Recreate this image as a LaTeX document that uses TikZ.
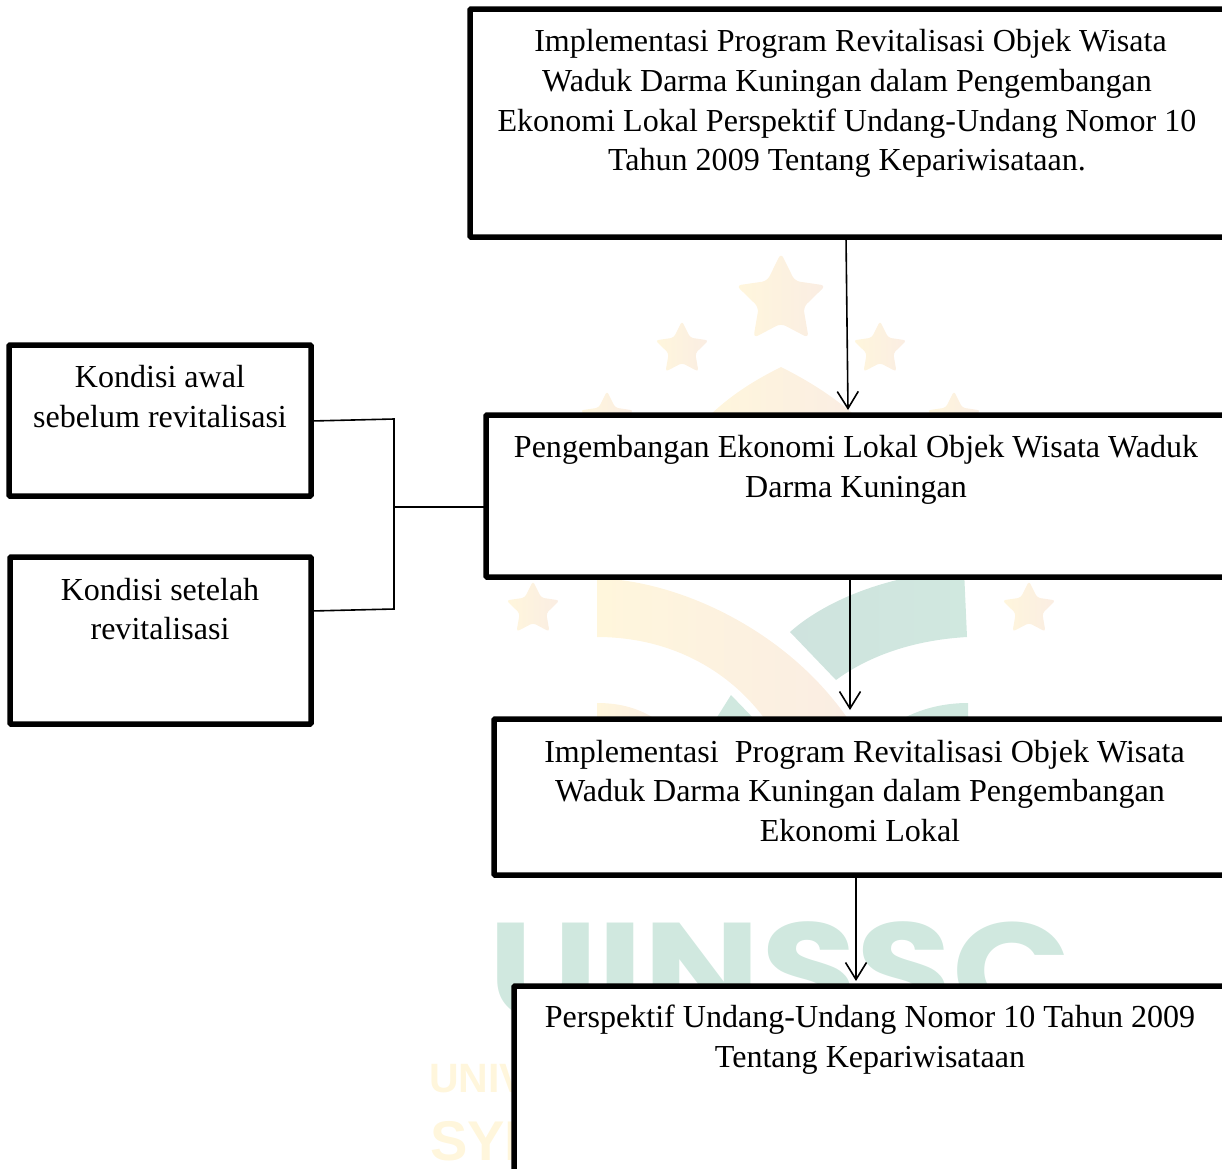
\documentclass[tikz,border=0pt]{standalone}
\usepackage{fontspec}
\setmainfont{Liberation Serif}
\newfontfamily\wmfont{Poppins}[BoldFont={Poppins Bold}]
\newfontfamily\wmsans{Liberation Sans}
\usetikzlibrary{arrows.meta,calc}
\definecolor{wmyellow}{HTML}{FFF6DC}
\definecolor{wmpeach}{HTML}{FAEDE3}
\definecolor{wmteal}{HTML}{D0E8DF}
\definecolor{wmtealdark}{HTML}{CFE3DE}
\newcommand{\wmstar}[3]{%
  \pgfmathsetmacro{\ri}{#3*0.5}%
  \shade[left color=wmyellow,right color=wmpeach,rounded corners=#3*0.11pt]
    ($(#1,#2)+(90:#3pt and #3pt)$)
    \foreach \k in {1,...,9}{
      \ifodd\k -- ($(#1,#2)+({90+36*\k}:\ri pt and \ri pt)$)
      \else -- ($(#1,#2)+({90+36*\k}:#3pt and #3pt)$)\fi
    } -- cycle;}
\tikzset{
  x=1pt,y=-1pt,
  boxa/.style={draw=black,fill=white,line width=5.5pt,rounded corners=1pt,inner sep=0pt,outer sep=0pt},
  lab/.style={align=center,inner sep=0pt,font=\fontsize{32.05}{39.8}\selectfont,anchor=center},
  conn/.style={draw=black,line width=1.6pt},
  arr/.style={conn,-{Straight Barb[length=17pt,width=21pt,line width=1.6pt]}}
}
\begin{document}
\begin{tikzpicture}
\useasboundingbox (0,0) rectangle (1222,1168);
\clip (0,0) rectangle (1222,1168);
% watermark
\wmstar{781}{300}{47}
\wmstar{682}{349}{28}
\wmstar{880}{349}{28}
\wmstar{607}{419}{28}
\wmstar{954}{419}{28}
\wmstar{533}{609}{28}
\wmstar{1029}{609}{28}
\shade[left color=wmyellow,right color=wmpeach] (705,420) .. controls (730,395) and (755,380) .. (781,367) .. controls (807,380) and (835,397) .. (860,420) -- cycle;
\shade[left color=wmyellow,right color=wmpeach] (597,637) -- (597,570) -- (620,580) .. controls (700,590) and (795,640) .. (850,722) -- (767,722) .. controls (730,670) and (670,637) .. (597,637) -- cycle;
\shade[left color=wmtealdark,right color=wmteal] (790,632) .. controls (820,605) and (880,575) .. (964,570) -- (967,637) .. controls (915,640) and (870,655) .. (836,680) -- cycle;
\shade[left color=wmyellow,right color=wmpeach] (597,703) .. controls (620,703) and (640,708) .. (660,722) -- (597,722) -- cycle;
\fill[wmteal] (731,695) -- (757,722) -- (714,722) -- cycle;
\fill[wmteal] (968,703) .. controls (945,703) and (920,708) .. (897,722) -- (968,722) -- cycle;
\node[text=wmteal,inner sep=0pt,anchor=base west,font=\wmfont\bfseries\fontsize{136}{136}\selectfont] (wmuin) at (488,1018) {\scalebox{1.145}[1]{UINSSC}};
\node[text=wmyellow,inner sep=0pt,anchor=base west,font=\wmsans\bfseries\fontsize{41}{41}\selectfont] (wmuni) at (429,1092) {UNIV};
\node[text=wmyellow,inner sep=0pt,anchor=base west,font=\wmsans\bfseries\fontsize{56}{56}\selectfont] (wmsy) at (430,1160) {SYE};
% boxes
\node[boxa,minimum width=770pt,minimum height=228pt] (A) at (855,123) {};
\node[boxa,minimum width=754pt,minimum height=162pt] (B) at (863,496) {};
\node[boxa,minimum width=746pt,minimum height=156pt] (C) at (867,797) {};
\node[boxa,minimum width=726pt,minimum height=214pt] (D) at (877,1093) {};
\node[boxa,minimum width=302pt,minimum height=151pt] (E) at (160,420.5) {};
\node[boxa,minimum width=301pt,minimum height=167pt] (F) at (160.5,640.5) {};
% texts
\node[lab] (tA) at (847,103.5) {\hspace*{7pt}Implementasi Program Revitalisasi Objek Wisata\\Waduk Darma Kuningan dalam Pengembangan\\Ekonomi Lokal Perspektif Undang-Undang Nomor 10\\Tahun 2009 Tentang Kepariwisataan.};
\node[lab] (tB) at (856,470) {Pengembangan Ekonomi Lokal Objek Wisata Waduk\\Darma Kuningan};
\node[lab] (tC) at (860,791) {\hspace*{9pt}Implementasi\ \ Program Revitalisasi Objek Wisata\\Waduk Darma Kuningan dalam Pengembangan\\Ekonomi Lokal};
\node[lab] (tD) at (870,1040) {Perspektif Undang-Undang Nomor 10 Tahun 2009\\Tentang Kepariwisataan};
\node[lab] (tE) at (160,396.5) {Kondisi awal\\sebelum revitalisasi};
\node[lab] (tF) at (160,609) {Kondisi setelah\\revitalisasi};
% connectors
\coordinate (j1) at (394,419);
\coordinate (j2) at (394,609);
\coordinate (j3) at (394,507);
\draw[conn] ([yshift=-0.5pt]E.east) -- (j1) -- (j2) -- ([yshift=29.5pt]F.east);
\draw[conn] (j3) -- (B.west |- j3);
\draw[arr] ([xshift=-9pt]A.south) -- ([xshift=-15pt,yshift=5pt]B.north);
\draw[arr] ([xshift=-13pt]B.south) -- ([xshift=-17pt,yshift=9pt]C.north);
\draw[arr] ([xshift=-11pt]C.south) -- ([xshift=-21pt,yshift=5pt]D.north);
\end{tikzpicture}
\end{document}
